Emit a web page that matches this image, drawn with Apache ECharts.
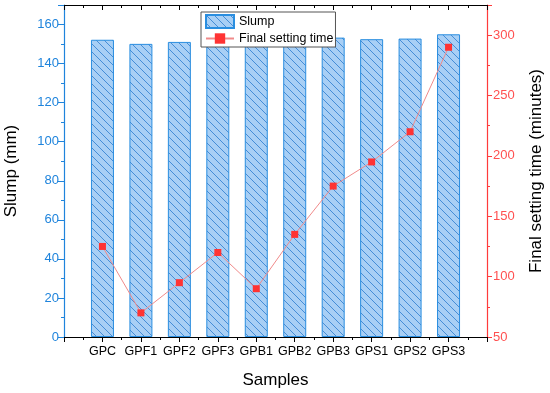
<!DOCTYPE html>
<html><head><meta charset="utf-8">
<script src="https://cdn.jsdelivr.net/npm/echarts@6/dist/echarts.min.js"></script>
<style>html,body{margin:0;padding:0;background:#fff}#c{width:550px;height:393px}</style>
</head><body><div id="c"></div>
<script>
const categories = ['GPC','GPF1','GPF2','GPF3','GPB1','GPB2','GPB3','GPS1','GPS2','GPS3'];
const slump = [152.2,150.1,151.1,152.2,151.1,152.2,153.3,152.5,152.8,155.0];
const settingTime = [125,70,95,120,90,135,175,195,220,290];

function hatch(){
  const c = document.createElement('canvas');
  c.width = 8; c.height = 8;
  const g = c.getContext('2d');
  g.fillStyle = '#a8cff5'; g.fillRect(0,0,8,8);
  g.strokeStyle = '#3a86d4'; g.lineWidth = 0.9;
  g.beginPath();
  g.moveTo(-1,-1); g.lineTo(9,9);
  g.moveTo(-1,7); g.lineTo(1,9);
  g.moveTo(7,-1); g.lineTo(9,1);
  g.stroke();
  return c;
}
const pat = {image: hatch(), repeat: 'repeat'};
const FONT = 'Liberation Sans, Arial, sans-serif';
const blue = '#1f84dc', red = '#ff3b3b';

const chart = echarts.init(document.getElementById('c'), null, {renderer:'canvas'});
chart.setOption({
  animation:false,
  textStyle:{fontFamily:FONT},
  grid:{left:64,right:63,top:5,bottom:56,containLabel:false,outerBoundsMode:'none'},
  legend:{
    left:201, top:12, orient:'vertical', itemGap:3,
    itemWidth:28, itemHeight:13, padding:[2,2,2,4],
    borderColor:'#555', borderWidth:1, backgroundColor:'#fff',
    textStyle:{fontFamily:FONT,fontSize:12.5,color:'#000'},
    data:[{name:'Slump',icon:'rect'},{name:'Final setting time'}]
  },
  xAxis:[{
    type:'value', position:'bottom', min:0, max:11, interval:1,
    name:'Samples', nameLocation:'middle', nameGap:35,
    nameTextStyle:{fontFamily:FONT,fontSize:17,color:'#000'},
    axisLine:{onZero:false,lineStyle:{color:'#000',width:1.2}},
    axisTick:{inside:false,length:5,lineStyle:{color:'#000'}},
    minorTick:{show:true,splitNumber:2,length:3,lineStyle:{color:'#000'}},
    splitLine:{show:false},
    axisLabel:{fontFamily:FONT,fontSize:12.5,color:'#000',margin:8,
      formatter:v=> (v>=1 && v<=categories.length) ? categories[v-1] : ''}
  },{
    type:'value', position:'top', min:0, max:11, interval:1,
    axisLine:{onZero:false,lineStyle:{color:'#000',width:1.2}},
    axisTick:{inside:true,length:5,lineStyle:{color:'#000'}},
    minorTick:{show:true,splitNumber:2,length:3,lineStyle:{color:'#000'}},
    splitLine:{show:false}, axisLabel:{show:false}
  }],
  yAxis:[{
    type:'value', position:'left', min:0, max:170, interval:20,
    name:'Slump (mm)', nameLocation:'middle', nameGap:44, nameRotate:90,
    nameTextStyle:{fontFamily:FONT,fontSize:17,color:'#000'},
    axisLine:{show:true,onZero:false,lineStyle:{color:blue,width:1.2}},
    axisTick:{show:true,inside:false,length:6,lineStyle:{color:blue}},
    minorTick:{show:true,splitNumber:2,length:3,lineStyle:{color:blue}},
    splitLine:{show:false},
    axisLabel:{inside:false,fontFamily:FONT,fontSize:13,color:blue,margin:5,showMaxLabel:false}
  },{
    type:'value', position:'right', min:50, max:325, interval:50,
    name:'Final setting time (minutes)', nameLocation:'middle', nameGap:41, nameRotate:90,
    nameTextStyle:{fontFamily:FONT,fontSize:17,color:'#000'},
    axisLine:{show:true,onZero:false,lineStyle:{color:red,width:1.2}},
    axisTick:{show:true,inside:false,length:5,lineStyle:{color:red}},
    minorTick:{show:true,splitNumber:2,length:3,lineStyle:{color:red}},
    splitLine:{show:false},
    axisLabel:{inside:false,fontFamily:FONT,fontSize:13,color:'#ff5050',margin:6,showMaxLabel:false}
  }],
  series:[{
    name:'Slump', type:'bar', xAxisIndex:0, yAxisIndex:0, barWidth:23,
    itemStyle:{color:pat, borderColor:'#2a8ee0', borderWidth:1},
    data: slump.map((v,i)=>[i+1,v])
  },{
    name:'Final setting time', type:'line', xAxisIndex:0, yAxisIndex:1,
    symbol:'rect', symbolSize:7,
    lineStyle:{color:'#f08a8a',width:1},
    itemStyle:{color:'#ff3333'},
    data: settingTime.map((v,i)=>[i+1,v])
  }]
});
</script></body></html>
